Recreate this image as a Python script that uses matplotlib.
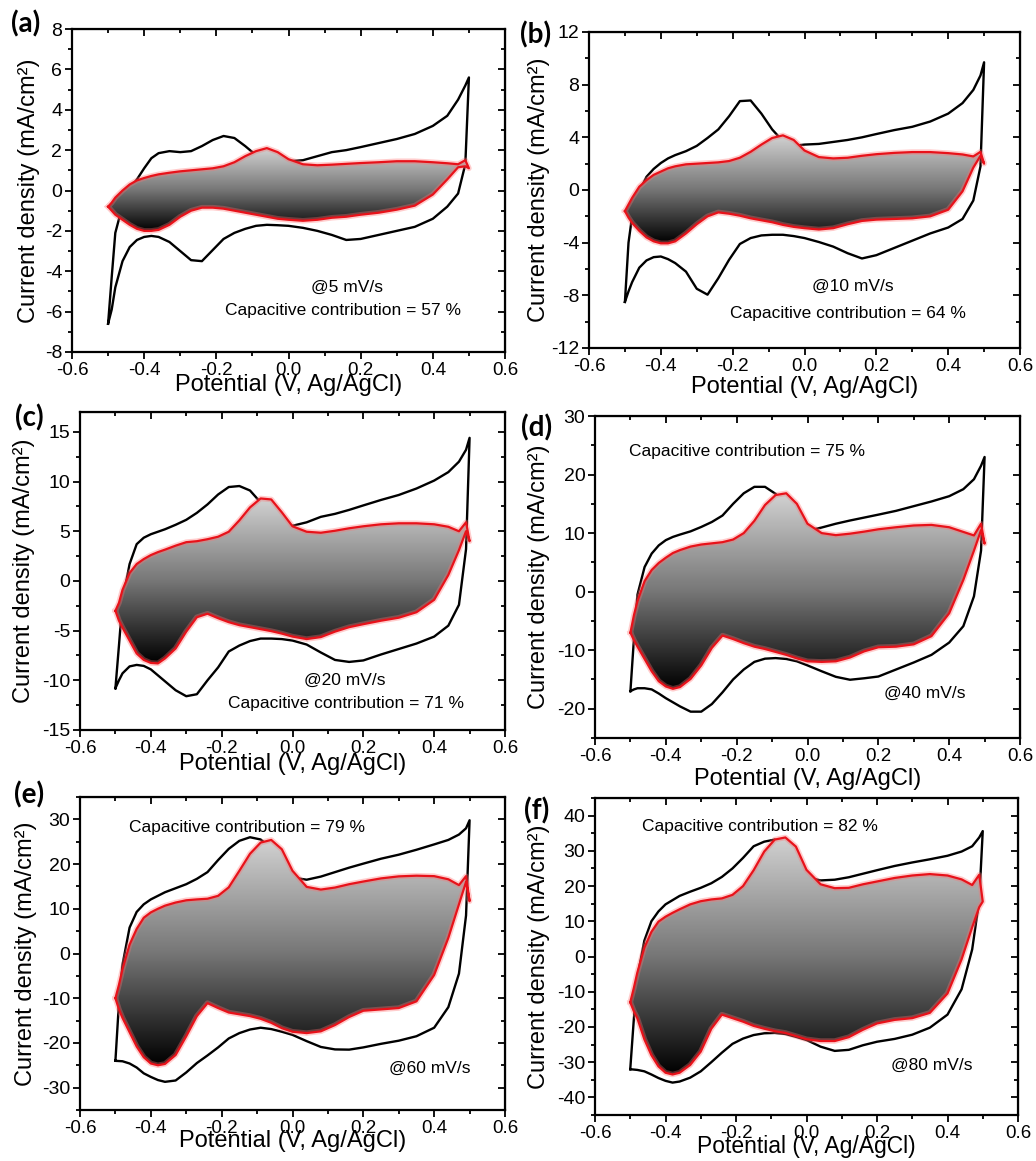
import numpy as np
import matplotlib
matplotlib.use("Agg")
import matplotlib.pyplot as plt
from matplotlib.patches import Polygon
from matplotlib.ticker import MultipleLocator
from matplotlib.colors import LinearSegmentedColormap

plt.rcParams['font.family'] = ['Liberation Sans', 'DejaVu Sans']

# potential grid (V vs Ag/AgCl), shared by every branch
pot = [-0.50, -0.49, -0.48, -0.46, -0.44, -0.42, -0.40, -0.38, -0.36, -0.33,
       -0.30, -0.27, -0.24, -0.21, -0.18, -0.15, -0.12, -0.09, -0.06, -0.03,
       0.00, 0.04, 0.08, 0.12, 0.16, 0.20, 0.25, 0.30, 0.35, 0.40,
       0.44, 0.47, 0.49, 0.50]

# (a) 5 mV/s
a_tot_up = [-6.6, -4.3, -2.1, -0.75, 0.1, 0.55, 1.1, 1.6, 1.85, 1.95,
            1.9, 1.95, 2.2, 2.5, 2.7, 2.6, 2.2, 1.75, 1.55, 1.5,
            1.45, 1.5, 1.7, 1.9, 2.0, 2.15, 2.35, 2.55, 2.8, 3.2,
            3.7, 4.5, 5.2, 5.6]
a_tot_dn = [-6.6, -5.9, -4.8, -3.5, -2.8, -2.45, -2.3, -2.25, -2.3, -2.55,
            -3.0, -3.45, -3.5, -2.95, -2.4, -2.1, -1.9, -1.75, -1.7, -1.72,
            -1.75, -1.85, -2.0, -2.2, -2.45, -2.4, -2.2, -2.0, -1.8, -1.4,
            -0.8, -0.15, 1.3, 5.6]
a_cap_up = [-0.8, -0.6, -0.35, 0.0, 0.3, 0.5, 0.62, 0.72, 0.8, 0.88,
            0.95, 1.0, 1.05, 1.1, 1.2, 1.4, 1.7, 1.95, 2.1, 1.9,
            1.55, 1.3, 1.25, 1.28, 1.32, 1.36, 1.4, 1.45, 1.45, 1.4,
            1.35, 1.3, 1.5, 1.1]
a_cap_dn = [-0.8, -1.0, -1.2, -1.45, -1.7, -1.9, -2.0, -2.0, -1.95, -1.7,
            -1.3, -1.0, -0.85, -0.85, -0.9, -1.0, -1.1, -1.2, -1.3, -1.4,
            -1.45, -1.5, -1.45, -1.35, -1.3, -1.2, -1.1, -0.95, -0.75, -0.2,
            0.55, 1.15, 1.2, 1.1]

# (b) 10 mV/s
b_tot_up = [-8.5, -4.0, -2.0, -0.1, 1.0, 1.6, 2.05, 2.4, 2.65, 2.95,
            3.35, 3.95, 4.6, 5.6, 6.75, 6.8, 5.8, 4.6, 3.7, 3.35,
            3.45, 3.5, 3.65, 3.8, 4.0, 4.25, 4.55, 4.8, 5.2, 5.8,
            6.6, 7.6, 8.7, 9.7]
b_tot_dn = [-8.5, -7.7, -7.0, -5.9, -5.35, -5.1, -5.05, -5.25, -5.55, -6.2,
            -7.5, -7.95, -6.7, -5.3, -4.1, -3.65, -3.45, -3.4, -3.4, -3.5,
            -3.65, -3.95, -4.3, -4.8, -5.2, -4.95, -4.4, -3.85, -3.3, -2.85,
            -2.2, -0.8, 1.8, 9.7]
b_cap_up = [-1.6, -1.1, -0.6, 0.25, 0.75, 1.15, 1.4, 1.65, 1.8, 1.95,
            2.0, 2.05, 2.1, 2.2, 2.45, 2.9, 3.45, 3.95, 4.15, 3.8,
            3.0, 2.5, 2.4, 2.45, 2.6, 2.72, 2.82, 2.88, 2.88, 2.8,
            2.7, 2.55, 2.9, 2.0]
b_cap_dn = [-1.6, -2.1, -2.5, -3.1, -3.6, -3.9, -4.05, -4.05, -3.9, -3.3,
            -2.6, -2.0, -1.7, -1.8, -1.95, -2.15, -2.3, -2.45, -2.65, -2.8,
            -2.9, -3.0, -2.9, -2.6, -2.35, -2.25, -2.2, -2.15, -2.0, -1.5,
            -0.1, 1.7, 2.6, 2.0]

# (c) 20 mV/s
c_tot_up = [-10.8, -6.5, -2.0, 1.7, 3.7, 4.35, 4.7, 4.95, 5.2, 5.65,
            6.15, 6.85, 7.7, 8.7, 9.45, 9.55, 9.1, 7.9, 6.6, 5.6,
            5.55, 5.9, 6.45, 6.75, 7.15, 7.6, 8.15, 8.65, 9.3, 10.1,
            10.95, 12.0, 13.2, 14.4]
c_tot_dn = [-10.8, -10.0, -9.3, -8.6, -8.45, -8.55, -8.9, -9.5, -10.1, -11.0,
            -11.6, -11.4, -10.0, -8.7, -7.1, -6.5, -6.05, -5.8, -5.8, -5.85,
            -6.0, -6.4, -7.2, -7.95, -8.15, -8.0, -7.4, -6.85, -6.3, -5.6,
            -4.5, -2.4, 3.2, 14.4]
c_cap_up = [-3.0, -2.2, -0.9, 0.8, 1.7, 2.2, 2.6, 2.9, 3.15, 3.55,
            3.9, 4.0, 4.2, 4.45, 4.95, 6.1, 7.4, 8.3, 8.2, 6.9,
            5.5, 4.95, 4.85, 5.05, 5.3, 5.5, 5.7, 5.8, 5.8, 5.7,
            5.45, 5.0, 5.9, 4.0]
c_cap_dn = [-3.0, -4.0, -4.7, -6.0, -7.3, -7.95, -8.25, -8.3, -7.8, -6.8,
            -5.1, -3.65, -3.3, -3.75, -4.15, -4.45, -4.65, -4.85, -5.05, -5.3,
            -5.6, -5.85, -5.65, -5.1, -4.65, -4.35, -4.0, -3.7, -3.15, -1.9,
            0.6, 3.1, 5.0, 4.0]

# (d) 40 mV/s
d_tot_up = [-17.0, -8.0, -0.5, 4.2, 6.5, 7.9, 8.8, 9.35, 9.75, 10.3,
            11.05, 11.9, 13.0, 15.0, 16.8, 17.9, 17.9, 16.7, 14.3, 11.7,
            10.4, 10.95, 11.6, 12.15, 12.65, 13.15, 13.8, 14.6, 15.4, 16.3,
            17.5, 19.2, 21.5, 23.0]
d_tot_dn = [-17.0, -16.7, -16.5, -16.5, -16.7, -17.4, -18.2, -18.9, -19.6, -20.5,
            -20.5, -19.2, -17.2, -15.0, -13.3, -12.0, -11.45, -11.35, -11.5, -11.9,
            -12.6, -13.6, -14.55, -15.05, -14.8, -14.5, -13.3, -12.1, -10.8, -8.7,
            -5.9, -0.8, 7.0, 23.0]
d_cap_up = [-7.0, -4.0, -1.6, 1.8, 3.7, 4.9, 5.8, 6.6, 7.1, 7.7,
            8.05, 8.25, 8.45, 8.9, 10.0, 12.1, 14.8, 16.5, 16.8, 15.0,
            11.6, 10.0, 9.65, 9.9, 10.25, 10.65, 11.0, 11.3, 11.4, 11.0,
            10.2, 9.6, 11.6, 8.2]
d_cap_dn = [-7.0, -8.3, -9.4, -11.5, -13.6, -15.3, -16.2, -16.6, -16.3, -14.9,
            -12.6, -9.6, -7.5, -8.1, -8.8, -9.4, -9.8, -10.3, -10.8, -11.4,
            -11.9, -12.0, -11.9, -11.25, -10.2, -9.5, -9.4, -9.0, -7.6, -3.7,
            2.0, 7.0, 10.5, 8.2]

# (e) 60 mV/s
e_tot_up = [-24.0, -11.0, -2.5, 5.8, 9.3, 11.0, 12.1, 12.9, 13.7, 14.6,
            15.5, 16.7, 18.2, 20.9, 23.4, 25.2, 26.0, 25.5, 23.5, 20.0,
            17.0, 16.5, 17.2, 18.2, 19.2, 20.1, 21.2, 22.1, 23.2, 24.4,
            25.4, 26.6, 28.0, 29.8]
e_tot_dn = [-24.0, -24.05, -24.1, -24.6, -25.5, -26.8, -27.6, -28.3, -28.7, -28.4,
            -26.6, -24.5, -22.8, -21.0, -19.0, -17.8, -17.0, -16.6, -16.9, -17.5,
            -18.2, -19.6, -20.9, -21.45, -21.5, -21.0, -20.2, -19.5, -18.5, -16.6,
            -12.0, -4.5, 8.5, 29.8]
e_cap_up = [-10.0, -7.0, -3.5, 2.0, 5.5, 8.0, 9.2, 10.0, 10.7, 11.4,
            11.9, 12.1, 12.25, 12.9, 14.8, 18.5, 22.3, 24.8, 25.4, 23.3,
            18.5, 14.9, 14.3, 14.75, 15.5, 16.1, 16.8, 17.25, 17.4, 17.3,
            16.6, 15.3, 17.3, 11.7]
e_cap_dn = [-10.0, -12.5, -14.4, -17.6, -20.8, -23.2, -24.6, -25.0, -24.7, -22.7,
            -18.5, -14.0, -11.1, -12.2, -13.2, -13.6, -14.0, -14.6, -15.5, -16.7,
            -17.5, -17.8, -17.4, -16.0, -14.2, -12.8, -12.5, -12.2, -10.7, -4.8,
            3.5, 11.0, 16.0, 11.7]

# (f) 80 mV/s
f_tot_up = [-32.0, -18.0, -6.0, 4.5, 10.0, 12.8, 14.8, 16.0, 17.2, 18.4,
            19.5, 20.8, 22.6, 25.0, 28.0, 31.3, 32.6, 33.2, 31.0, 26.0,
            22.5, 21.6, 21.8, 22.5, 23.5, 24.5, 25.7, 26.7, 27.6, 28.6,
            29.8, 31.3, 33.8, 35.6]
f_tot_dn = [-32.0, -32.1, -32.2, -32.6, -33.5, -34.5, -35.3, -35.8, -35.5, -34.4,
            -32.6, -30.0, -27.3, -24.8, -23.3, -22.3, -21.8, -21.7, -22.0, -22.8,
            -23.7, -25.6, -26.8, -26.5, -25.2, -24.2, -23.4, -22.2, -20.2, -16.5,
            -9.3, 2.0, 16.0, 35.6]
f_cap_up = [-13.0, -9.0, -4.6, 2.5, 7.0, 9.9, 11.3, 12.4, 13.4, 14.8,
            15.7, 16.2, 16.5, 17.5, 20.0, 24.5, 29.8, 33.2, 33.8, 31.2,
            24.6, 20.5, 19.4, 19.5, 20.5, 21.3, 22.3, 23.0, 23.4, 23.0,
            21.9, 20.3, 23.2, 15.6]
f_cap_dn = [-13.0, -15.5, -17.5, -23.5, -28.0, -31.2, -33.0, -33.5, -33.0, -30.8,
            -27.0, -20.5, -16.5, -17.5, -18.5, -19.7, -20.5, -21.2, -21.7, -22.6,
            -23.5, -24.0, -24.0, -22.9, -20.8, -19.0, -18.0, -17.5, -16.0, -10.5,
            -0.8, 8.3, 14.0, 15.6]

panel_tags = ['(a)', '(b)', '(c)', '(d)', '(e)', '(f)']
rates = ['@5 mV/s', '@10 mV/s', '@20 mV/s', '@40 mV/s', '@60 mV/s', '@80 mV/s']
cap_pct = [57, 64, 71, 75, 79, 82]

W, H = 1036, 1161
fig = plt.figure(figsize=(W / 100, H / 100), dpi=100)


def rect(l, r, t, b):
    return [l / W, 1 - b / H, (r - l) / W, (b - t) / H]


boxes = [rect(72, 505, 29, 352), rect(589, 1020, 32, 348),
         rect(80, 505, 412, 730), rect(595, 1020, 416, 738),
         rect(80, 505, 797, 1110), rect(595, 1018, 798, 1115)]
ylims = [(-8, 8), (-12, 12), (-15, 17), (-25, 30), (-35, 35), (-45, 45)]
ymaj = [2, 4, 5, 10, 10, 10]
ymin_ = [1, 2, 2.5, 5, 5, 5]
ylab_x = [-0.074, -0.09, -0.105, -0.107, -0.10, -0.107]
xlab_y = [-0.068, -0.088, -0.072, -0.093, -0.064, -0.063]
# text anchors in axes fraction: rate text, contribution text
rate_pos = [(0.635, 0.20), (0.613, 0.195), (0.624, 0.157), (0.776, 0.14), (0.824, 0.133), (0.795, 0.158)]
cap_pos = [(0.627, 0.13), (0.60, 0.11), (0.627, 0.084), (0.357, 0.889), (0.392, 0.904), (0.39, 0.909)]
tag_pos = [(26, 24), (536, 35), (29, 418), (537, 428), (29, 795), (537, 811)]

series = [(a_tot_up, a_tot_dn, a_cap_up, a_cap_dn),
          (b_tot_up, b_tot_dn, b_cap_up, b_cap_dn),
          (c_tot_up, c_tot_dn, c_cap_up, c_cap_dn),
          (d_tot_up, d_tot_dn, d_cap_up, d_cap_dn),
          (e_tot_up, e_tot_dn, e_cap_up, e_cap_dn),
          (f_tot_up, f_tot_dn, f_cap_up, f_cap_dn)]

grad_cmap = LinearSegmentedColormap.from_list('shade', ['#000000', '#777777', '#d2d2d2'])
x = np.array(pot)

for i in range(6):
    tot_up, tot_dn, cap_up, cap_dn = [np.array(s) for s in series[i]]
    ax = fig.add_axes(boxes[i])

    # total current loop
    ax.plot(np.concatenate([x, x[::-1]]), np.concatenate([tot_up, tot_dn[::-1]]),
            color='k', lw=1.7, zorder=2)

    # capacitive loop with vertical grey gradient
    cx = np.concatenate([x, x[::-1]])
    cy = np.concatenate([cap_up, cap_dn[::-1]])
    poly = Polygon(np.column_stack([cx, cy]), closed=True, facecolor='none',
                   edgecolor='none', transform=ax.transData)
    ax.add_patch(poly)
    grad = np.linspace(0, 1, 256).reshape(-1, 1)
    im = ax.imshow(grad, cmap=grad_cmap, origin='lower', aspect='auto',
                   extent=[cx.min(), cx.max(), cy.min(), cy.max()], zorder=3)
    im.set_clip_path(poly)
    ax.plot(cx, cy, color='#ff7070', lw=4.0, alpha=0.35, zorder=4)
    ax.plot(cx, cy, color='#e8121a', lw=1.6, zorder=5)

    ax.set_xlim(-0.6, 0.6)
    ax.set_ylim(*ylims[i])
    ax.xaxis.set_major_locator(MultipleLocator(0.2))
    ax.xaxis.set_minor_locator(MultipleLocator(0.1))
    ax.yaxis.set_major_locator(MultipleLocator(ymaj[i]))
    ax.yaxis.set_minor_locator(MultipleLocator(ymin_[i]))
    ax.xaxis.set_major_formatter(plt.FuncFormatter(lambda v, p: f'{v:.1f}'))
    ax.yaxis.set_major_formatter(plt.FuncFormatter(lambda v, p: f'{v:g}'))
    ax.tick_params(axis='both', which='both', direction='out', width=1.3, colors='k')
    ax.tick_params(axis='both', which='major', length=5)
    ax.tick_params(axis='both', which='minor', length=3)
    ax.tick_params(axis='x', labelsize=13.5, pad=2)
    ax.tick_params(axis='y', labelsize=14, pad=2)
    for sp in ax.spines.values():
        sp.set_linewidth(1.6)

    top = ax.secondary_xaxis('top')
    top.xaxis.set_major_locator(MultipleLocator(0.2))
    top.xaxis.set_minor_locator(MultipleLocator(0.1))
    top.tick_params(axis='x', which='both', direction='in', labeltop=False, width=1.3)
    top.tick_params(axis='x', which='major', length=5)
    top.tick_params(axis='x', which='minor', length=3)
    right = ax.secondary_yaxis('right')
    right.yaxis.set_major_locator(MultipleLocator(ymaj[i]))
    right.yaxis.set_minor_locator(MultipleLocator(ymin_[i]))
    right.tick_params(axis='y', which='both', direction='in', labelright=False, width=1.3)
    right.tick_params(axis='y', which='major', length=5)
    right.tick_params(axis='y', which='minor', length=3)

    ax.set_ylabel('Current density (mA/cm²)', fontsize=17)
    ax.yaxis.set_label_coords(ylab_x[i], 0.5)
    ax.set_xlabel('Potential (V, Ag/AgCl)', fontsize=17 if i < 5 else 16.5)
    ax.xaxis.set_label_coords(0.5, xlab_y[i])

    ax.text(*rate_pos[i], rates[i], transform=ax.transAxes, ha='center', va='center', fontsize=12.5)
    ax.text(*cap_pos[i], f'Capacitive contribution = {cap_pct[i]} %', transform=ax.transAxes,
            ha='center', va='center', fontsize=12.5)

    fig.text(tag_pos[i][0] / W, 1 - tag_pos[i][1] / H, panel_tags[i], ha='center', va='center',
             fontsize=20, fontweight='bold', family=['Lato', 'DejaVu Sans'])

fig.savefig('out.png', dpi=100)
